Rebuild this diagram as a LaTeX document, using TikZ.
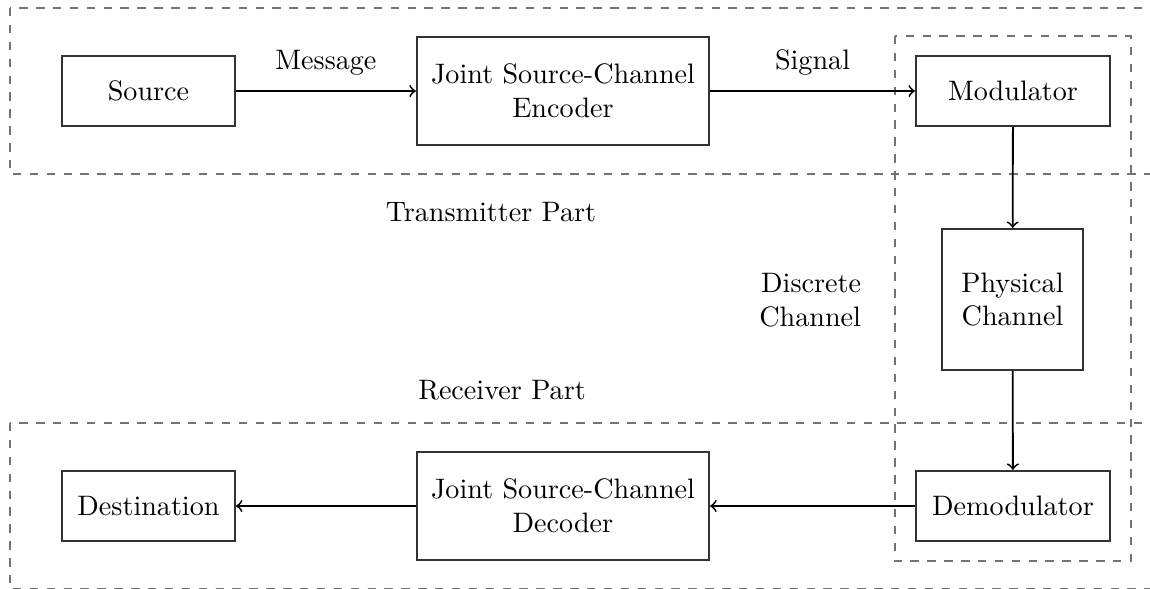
\documentclass[tikz,border=0pt]{standalone}
\usetikzlibrary{arrows}
\begin{document}
\begin{tikzpicture}[x=0.3553pt,y=-0.3553pt,
  block/.style={draw=black!80,line width=0.75pt,fill=white,align=center,inner sep=0pt},
  flow/.style={->,line width=0.65pt},
  region/.style={draw=black!55,dashed,line width=0.45pt}]
\useasboundingbox (0,0) rectangle (1150,589);
% dashed regions
\draw[region] (10,8) rectangle (1170,174);
\draw[region] (10,423) rectangle (1170,589);
\draw[region] (895,36) rectangle (1131,561);
% blocks
\node[block,minimum width=61.4pt,minimum height=24.9pt] (src) at (148.5,91) {Source};
\node[block,minimum width=103.8pt,minimum height=38.3pt] (enc) at (563,91) {Joint Source-Channel\\Encoder};
\node[block,minimum width=68.9pt,minimum height=24.9pt] (mod) at (1013,91) {Modulator};
\node[block,minimum width=50.1pt,minimum height=50.1pt] (phy) at (1012.5,299.5) {Physical\\Channel};
\node[block,minimum width=68.9pt,minimum height=24.9pt] (dem) at (1013,506) {Demodulator};
\node[block,minimum width=103.8pt,minimum height=38.3pt] (dec) at (563,506) {Joint Source-Channel\\Decoder};
\node[block,minimum width=61.4pt,minimum height=24.9pt] (dst) at (148.5,506) {Destination};
% connectors
\draw[flow] (src) -- node[above=2pt] {Message} (enc);
\draw[flow] (enc) -- node[above=2pt] {Signal} (mod);
\draw[flow] (mod) -- (phy);
\draw[flow] (phy) -- (dem);
\draw[flow] (dem) -- (dec);
\draw[flow] (dec) -- (dst);
% region labels
\node (tx) at (491,212) {Transmitter Part};
\node (rx) at (502,390) {Receiver Part};
\node[align=right,anchor=east] (dc) at (871,300) {Discrete\\Channel};
\end{tikzpicture}
\end{document}
